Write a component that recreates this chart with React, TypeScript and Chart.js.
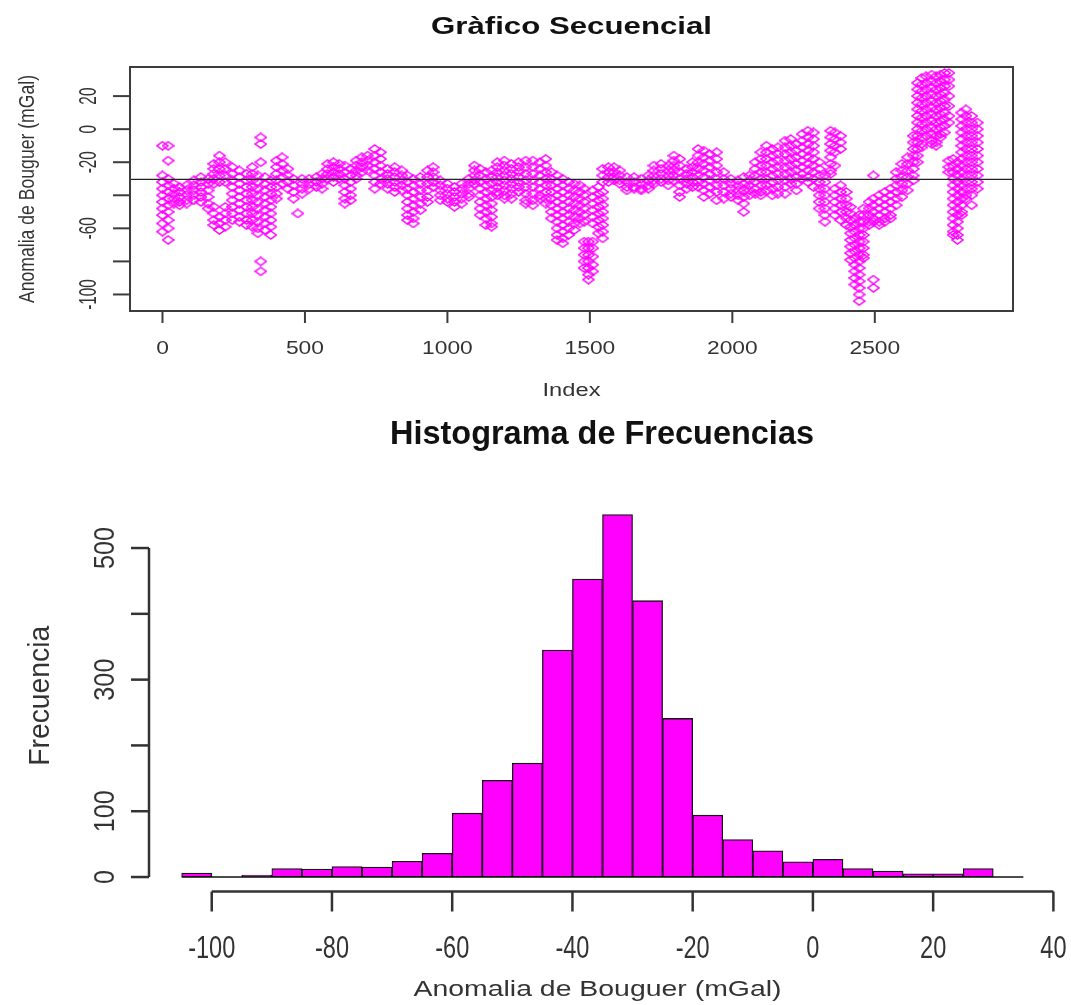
import React, { useEffect, useRef } from 'react';
import { Chart, registerables } from 'chart.js';

Chart.register(...registerables);

const W = 1071;
const H = 1005;
const FONT = '"Liberation Sans", Arial, Helvetica, sans-serif';

// ---------------- Sequential plot data ----------------
const seqIndex = [
  0, 20, 40, 60, 85, 110, 135, 160, 180, 200, 220, 245, 270, 295, 315, 335, 345, 360, 380, 400,
  420, 440, 460, 475, 490, 515, 540, 560, 580, 600, 620, 640, 660, 680, 700, 720, 745, 765, 790, 815,
  840, 860, 880, 905, 930, 950, 975, 1000, 1025, 1050, 1075, 1095, 1115, 1135, 1155, 1175, 1200, 1225, 1250, 1275,
  1300, 1325, 1345, 1365, 1385, 1405, 1425, 1445, 1465, 1480, 1495, 1510, 1530, 1545, 1565, 1585, 1605, 1630, 1655, 1680,
  1705, 1725, 1750, 1775, 1795, 1815, 1840, 1860, 1880, 1900, 1920, 1945, 1970, 1995, 2020, 2040, 2060, 2080, 2100, 2120,
  2140, 2160, 2185, 2205, 2225, 2245, 2265, 2285, 2305, 2325, 2345, 2360, 2380, 2400, 2415, 2430, 2445, 2460, 2480, 2495,
  2515, 2535, 2555, 2575, 2595, 2615, 2635, 2650, 2665, 2680, 2700, 2715, 2730, 2745, 2760, 2775, 2790, 2805, 2820, 2840,
  2860,
];

const seqValues: number[][] = [
  [-10, -28, -32, -36, -40, -44, -48, -52, -57, -62],
  [-10, -19, -30, -34, -38, -42, -46, -50, -55, -60, -67],
  [-33, -36, -39, -42, -45],
  [-35, -38, -41, -44, -46],
  [-34, -37, -40, -43, -45],
  [-31, -34, -37, -40, -43],
  [-29, -32, -35, -38, -41, -44],
  [-30, -33, -37, -41, -45, -48],
  [-21, -24, -27, -30, -33, -47, -51, -55, -58],
  [-16, -20, -24, -28, -32, -53, -57, -61],
  [-20, -24, -28, -32, -47, -51, -55, -59],
  [-23, -27, -31, -35, -39, -43, -47, -51, -55],
  [-25, -29, -33, -37, -41, -45, -49, -53, -56],
  [-27, -31, -35, -39, -43, -47, -51, -55, -58],
  [-23, -27, -31, -35, -39, -43, -47, -51, -55, -59],
  [-28, -32, -36, -40, -44, -48, -52, -56, -60, -63],
  [-5, -9, -20, -80, -86],
  [-29, -33, -37, -41, -45, -49, -53, -57, -61],
  [-31, -35, -39, -43, -47, -51, -55, -59, -64],
  [-19, -23, -27, -31, -35, -39, -42],
  [-17, -21, -25, -29, -33],
  [-24, -28, -32, -36],
  [-30, -34, -38, -42],
  [-51],
  [-30, -33, -36, -39],
  [-30, -33, -36],
  [-29, -32, -35],
  [-27, -30, -33, -36],
  [-21, -24, -27, -30],
  [-20, -23, -26, -29, -32],
  [-21, -24, -27, -30],
  [-22, -26, -30, -34, -38, -42, -45],
  [-24, -28, -32, -36, -40, -43],
  [-19, -22, -25, -28, -30],
  [-17, -20, -23, -26],
  [-16, -19, -22, -25],
  [-12, -16, -20, -24, -28, -32, -36],
  [-14, -18, -22, -26, -30, -33],
  [-24, -27, -30, -33, -36],
  [-23, -26, -29, -32, -35, -38],
  [-25, -28, -31, -34, -37],
  [-28, -32, -36, -40, -44, -48, -52, -55],
  [-30, -34, -38, -42, -46, -50, -54, -57],
  [-29, -33, -37, -41, -45, -49],
  [-25, -29, -33, -37, -41, -44],
  [-23, -26, -29, -32, -35],
  [-31, -34, -37, -40, -43],
  [-33, -36, -39, -42, -44],
  [-35, -38, -41, -44, -47],
  [-33, -36, -39, -42, -45],
  [-30, -33, -36, -39, -41],
  [-22, -25, -28, -31, -33],
  [-24, -28, -32, -36, -40, -44, -48, -52],
  [-26, -30, -34, -38, -42, -46, -50, -54, -58],
  [-25, -29, -33, -37, -41, -45, -49, -53, -57, -59],
  [-20, -23, -26, -29, -32, -35, -38, -40],
  [-19, -22, -25, -28, -31, -34, -37, -40, -42],
  [-21, -24, -27, -30, -33, -36, -39, -42],
  [-20, -23, -26, -29, -32, -35, -38],
  [-19, -23, -27, -31, -35, -39, -43, -45],
  [-19, -23, -27, -31, -35, -39, -43, -46],
  [-20, -24, -28, -32, -36, -40, -42],
  [-18, -22, -26, -30, -34, -38, -42, -45],
  [-26, -30, -34, -38, -42, -46, -50, -54],
  [-28, -32, -36, -40, -44, -48, -52, -56, -60, -64, -67],
  [-30, -34, -38, -42, -46, -50, -54, -58, -62, -66, -69],
  [-32, -36, -40, -44, -48, -52, -56, -60, -64],
  [-33, -37, -41, -45, -49, -53, -57, -61],
  [-34, -38, -42, -46, -50, -54, -57],
  [-36, -40, -44, -48, -52, -56, -68, -72, -76, -80, -84],
  [-68, -72, -76, -80, -84, -88, -91],
  [-37, -41, -45, -49, -53, -57, -68, -72, -77, -82, -86],
  [-35, -39, -43, -47, -51, -55, -59, -63],
  [-24, -28, -32, -38, -42, -46, -50, -54, -58, -62, -66],
  [-23, -26, -29, -32],
  [-23, -26, -29, -31],
  [-25, -28, -31, -33],
  [-29, -32, -35, -37],
  [-29, -32, -35, -36],
  [-30, -33, -36, -37],
  [-28, -31, -34, -36],
  [-22, -25, -28, -31, -33],
  [-21, -24, -27, -30, -32],
  [-22, -25, -28, -31, -34],
  [-16, -19, -22, -25, -28, -31],
  [-18, -22, -26, -30, -34, -38, -41],
  [-24, -27, -30, -33, -36],
  [-20, -23, -26, -29, -32, -35],
  [-12, -16, -20, -24, -28, -32, -35],
  [-13, -17, -21, -25, -29, -33, -37, -41],
  [-15, -19, -23, -27, -31, -35, -39],
  [-14, -18, -22, -26, -30, -34, -38, -43],
  [-26, -30, -34, -38, -42],
  [-30, -33, -36, -39, -41],
  [-31, -34, -37, -40, -43],
  [-29, -33, -37, -41, -45, -50],
  [-28, -31, -34, -37, -40],
  [-20, -24, -28, -32, -36, -39],
  [-14, -18, -22, -26, -30, -34, -38, -40],
  [-10, -14, -18, -22, -26, -30, -34, -37],
  [-12, -16, -20, -24, -28, -32, -36, -40],
  [-11, -15, -19, -23, -27, -31, -35, -39],
  [-7, -11, -15, -19, -23, -27, -31, -35, -39],
  [-6, -10, -14, -18, -22, -26, -30, -33],
  [-9, -13, -17, -21, -25, -29, -33, -37],
  [-3, -7, -11, -15, -19, -23, -27, -30],
  [-1, -5, -9, -13, -17, -21, -25, -29, -32],
  [-2, -6, -10, -14, -18, -22, -26, -30, -35],
  [-20, -24, -28, -32, -36, -40, -44, -48],
  [-28, -32, -36, -40, -44, -48, -52, -56],
  [-1, -5, -9, -13, -17, -21, -25, -27],
  [-2, -6, -10, -14, -22, -36, -40, -44, -48, -52],
  [-4, -8, -12, -34, -38, -42, -46, -50, -55],
  [-38, -42, -46, -50, -54, -58],
  [-47, -51, -55, -59, -63, -67, -71, -75, -79],
  [-54, -58, -62, -66, -70, -74, -78, -82, -86, -90, -94],
  [-52, -56, -60, -64, -68, -72, -76, -80, -84, -88, -92, -96, -100, -104],
  [-48, -52, -56, -60, -64, -68, -72, -76, -78],
  [-44, -48, -52, -56, -58],
  [-28, -42, -46, -50, -54, -56, -91, -96],
  [-40, -44, -48, -52, -56, -58],
  [-38, -42, -46, -50, -54, -56],
  [-36, -40, -44, -48, -52, -54],
  [-26, -30, -34, -38, -42, -46],
  [-21, -25, -29, -33, -37, -41],
  [-17, -21, -25, -29, -33, -37],
  [-4, -8, -12, -16, -20, -24, -28, -31],
  [28, 24, 20, 16, 12, 8, 4, 0, -4, -8, -12, -16, -20],
  [31, 27, 23, 19, 15, 11, 7, 3, -1, -5, -9, -11],
  [32, 28, 24, 20, 16, 12, 8, 4, 0, -4],
  [33, 29, 25, 21, 17, 13, 9, 5, 1, -3, -7, -9],
  [32, 28, 24, 20, 16, 12, 8, 4, 0, -4, -8, -10],
  [33, 29, 25, 21, 17, 13, 9, 5, 1, -3, -5],
  [34, 30, 26, 22, 18, 14, 10, 6, 2, -2],
  [34, 30, 26, 20, 14, 8, 4, -19, -23, -26],
  [-18, -22, -26, -30, -34, -38, -42, -46, -50, -54, -58, -62, -64],
  [-20, -24, -28, -32, -36, -40, -44, -48, -52, -56, -60, -64, -67],
  [10, 6, 2, -2, -6, -10, -14, -18, -22, -26, -30, -34, -38, -42, -46, -50, -52],
  [12, 8, 4, 0, -4, -8, -12, -16, -20, -24, -28, -32, -36, -40, -42],
  [8, 4, 0, -4, -8, -12, -16, -20, -24, -28, -32, -36, -40, -46],
  [4, 0, -4, -8, -12, -16, -20, -24, -28, -32, -36],
];

const seqMean = -30.4;
const seqXTicks = [0, 500, 1000, 1500, 2000, 2500];
const seqYTicks = [-100, -80, -60, -40, -20, 0, 20];
const seqYLabels = ['-100', '', '-60', '', '-20', '0', '20'];

// ---------------- Histogram data ----------------
const histBinStarts = [
  -105, -100, -95, -90, -85, -80, -75, -70, -65, -60, -55, -50, -45, -40,
  -35, -30, -25, -20, -15, -10, -5, 0, 5, 10, 15, 20, 25, 30,
];
const histCounts = [
  6, 0, 3, 13, 12, 16, 15, 24, 36, 97, 147, 173, 345, 453,
  551, 420, 241, 94, 57, 40, 23, 27, 13, 9, 5, 5, 13, 0,
];
const histBinWidth = 5;
const histXTicks = [-100, -80, -60, -40, -20, 0, 20, 40];
const histYTicks = [0, 100, 200, 300, 400, 500];
const histYLabels = ['0', '100', '', '300', '', '500'];

// ---------------- helpers ----------------
function drawText(
  ctx: CanvasRenderingContext2D,
  s: string,
  x: number,
  y: number,
  size: number,
  opt: { bold?: boolean; rot?: boolean; width?: number; sx?: number; color?: string } = {}
) {
  if (!s) return;
  ctx.save();
  ctx.font = `${opt.bold ? 'bold ' : ''}${size}px ${FONT}`;
  ctx.fillStyle = opt.color || '#1e1e1e';
  ctx.textAlign = 'center';
  ctx.textBaseline = 'alphabetic';
  const w = ctx.measureText(s).width;
  const sx = opt.width ? opt.width / w : opt.sx || 1;
  ctx.translate(x, y);
  if (opt.rot) ctx.rotate(-Math.PI / 2);
  ctx.scale(sx, 1);
  ctx.fillText(s, 0, 0);
  ctx.restore();
}

function seg(ctx: CanvasRenderingContext2D, x1: number, y1: number, x2: number, y2: number) {
  ctx.beginPath();
  ctx.moveTo(x1, y1);
  ctx.lineTo(x2, y2);
  ctx.stroke();
}

function makeDiamond(w: number, h: number, color: string, lw: number) {
  const c = document.createElement('canvas');
  c.width = w;
  c.height = h;
  const g = c.getContext('2d')!;
  g.strokeStyle = color;
  g.lineWidth = lw;
  g.beginPath();
  g.moveTo(w / 2, 1);
  g.lineTo(w - 1, h / 2);
  g.lineTo(w / 2, h - 1);
  g.lineTo(1, h / 2);
  g.closePath();
  g.stroke();
  return c;
}

const seqAxesPlugin = {
  id: 'seqAxes',
  afterDraw(chart: any) {
    const { ctx, chartArea: a, scales } = chart;
    const xs = scales.x;
    const ys = scales.y;
    ctx.save();
    ctx.strokeStyle = '#3c3c3c';
    ctx.lineWidth = 2;
    ctx.strokeRect(a.left, a.top, a.right - a.left, a.bottom - a.top);
    seqYTicks.forEach((v, i) => {
      const py = ys.getPixelForValue(v);
      seg(ctx, a.left - 17, py, a.left, py);
      drawText(ctx, seqYLabels[i], 96, py, 24, { rot: true, sx: 0.64, color: '#333' });
    });
    seqXTicks.forEach((v) => {
      const px = xs.getPixelForValue(v);
      seg(ctx, px, a.bottom, px, a.bottom + 12);
      drawText(ctx, String(v), px, 354, 19, { sx: 1.2, color: '#333' });
    });
    const cx = (a.left + a.right) / 2;
    const cy = (a.top + a.bottom) / 2;
    drawText(ctx, 'Gràfico Secuencial', cx, 33.5, 23, { bold: true, width: 281, color: '#111' });
    drawText(ctx, 'Index', cx, 396, 17.5, { width: 58, color: '#333' });
    drawText(ctx, 'Anomalia de Bouguer (mGal)', 34, cy, 22, { rot: true, width: 228, color: '#333' });
    ctx.restore();
  },
};

const histAxesPlugin = {
  id: 'histAxes',
  afterDraw(chart: any) {
    const { ctx, chartArea: a, scales } = chart;
    const xs = scales.x;
    const ys = scales.y;
    ctx.save();
    ctx.strokeStyle = '#333';
    ctx.lineWidth = 2.5;
    const y0 = ys.getPixelForValue(histYTicks[0]);
    const y1 = ys.getPixelForValue(histYTicks[histYTicks.length - 1]);
    seg(ctx, a.left + 1, y0, a.left + 1, y1);
    histYTicks.forEach((v, i) => {
      const py = ys.getPixelForValue(v);
      seg(ctx, a.left - 17, py, a.left + 1, py);
      drawText(ctx, histYLabels[i], 114, py, 30, { rot: true, sx: 0.84, color: '#333' });
    });
    const x0 = xs.getPixelForValue(histXTicks[0]);
    const x1 = xs.getPixelForValue(histXTicks[histXTicks.length - 1]);
    seg(ctx, x0, a.bottom, x1, a.bottom);
    histXTicks.forEach((v) => {
      const px = xs.getPixelForValue(v);
      seg(ctx, px, a.bottom, px, a.bottom + 20);
      drawText(ctx, String(v), px, 958, 31, { sx: 0.76, color: '#333' });
    });
    const cx = (a.left + a.right) / 2;
    const cy = (a.top + a.bottom) / 2;
    drawText(ctx, 'Histograma de Frecuencias', 602, 444, 33, { bold: true, width: 424, color: '#111' });
    drawText(ctx, 'Anomalia de Bouguer (mGal)', cx - 5, 996, 21.6, { width: 368, color: '#333' });
    drawText(ctx, 'Frecuencia', 49, cy, 29, { rot: true, width: 140, color: '#333' });
    ctx.restore();
  },
};

export default function App() {
  const topRef = useRef<HTMLCanvasElement | null>(null);
  const botRef = useRef<HTMLCanvasElement | null>(null);

  useEffect(() => {
    document.body.style.margin = '0';
    const diamond = makeDiamond(13, 10, 'rgb(255,0,255)', 1.5);

    const seqPoints: { x: number; y: number }[] = [];
    seqIndex.forEach((ix, i) => {
      seqValues[i].forEach((v) => seqPoints.push({ x: ix, y: v }));
    });

    const SEQ_XMIN = -114;
    const SEQ_XMAX = 2985;

    const top = new Chart(topRef.current!, {
      type: 'scatter',
      data: {
        datasets: [
          {
            type: 'line',
            data: [
              { x: SEQ_XMIN, y: seqMean },
              { x: SEQ_XMAX, y: seqMean },
            ],
            borderColor: '#222',
            borderWidth: 1.4,
            pointRadius: 0,
            fill: false,
          } as any,
          {
            type: 'scatter',
            data: seqPoints,
            pointStyle: diamond as any,
            pointRadius: 5,
            borderColor: 'rgb(255,0,255)',
            backgroundColor: 'rgba(0,0,0,0)',
          } as any,
        ],
      },
      options: {
        animation: false,
        responsive: false,
        events: [],
        layout: { padding: { left: 130, top: 67, right: W - 1013, bottom: H - 311 } },
        scales: {
          x: { type: 'linear', min: SEQ_XMIN, max: SEQ_XMAX, display: false },
          y: { type: 'linear', min: -110, max: 37.6, display: false },
        },
        plugins: { legend: { display: false }, tooltip: { enabled: false }, title: { display: false } },
      },
      plugins: [seqAxesPlugin],
    });

    const histData = histBinStarts.map((s, i) => ({ x: s + histBinWidth / 2, y: histCounts[i] }));
    const histFirst = histBinStarts[0];
    const histLast = histBinStarts[histBinStarts.length - 1] + histBinWidth;

    const bot = new Chart(botRef.current!, {
      type: 'bar',
      data: {
        datasets: [
          {
            type: 'line',
            data: [
              { x: histFirst, y: 0 },
              { x: histLast, y: 0 },
            ],
            borderColor: '#111',
            borderWidth: 1.6,
            pointRadius: 0,
            fill: false,
          } as any,
          {
            type: 'bar',
            data: histData,
            backgroundColor: '#FF00FF',
            borderColor: '#141414',
            borderWidth: 1.3,
            borderSkipped: false,
            barPercentage: 1,
            categoryPercentage: 1,
            grouped: false,
          } as any,
        ],
      },
      options: {
        animation: false,
        responsive: false,
        events: [],
        layout: { padding: { left: 148, top: 500, right: W - 1057, bottom: H - 891.5 } },
        scales: {
          x: { type: 'linear', min: -110.6, max: 40.6, display: false, offset: false },
          y: { type: 'linear', min: -22, max: 573, display: false },
        },
        plugins: { legend: { display: false }, tooltip: { enabled: false }, title: { display: false } },
      },
      plugins: [histAxesPlugin],
    });

    return () => {
      top.destroy();
      bot.destroy();
    };
  }, []);

  const cs: React.CSSProperties = { position: 'absolute', left: 0, top: 0, width: W, height: H };
  return (
    <div style={{ position: 'absolute', left: 0, top: 0, width: W, height: H, background: '#fff' }}>
      <canvas ref={topRef} width={W} height={H} style={cs} />
      <canvas ref={botRef} width={W} height={H} style={cs} />
    </div>
  );
}
